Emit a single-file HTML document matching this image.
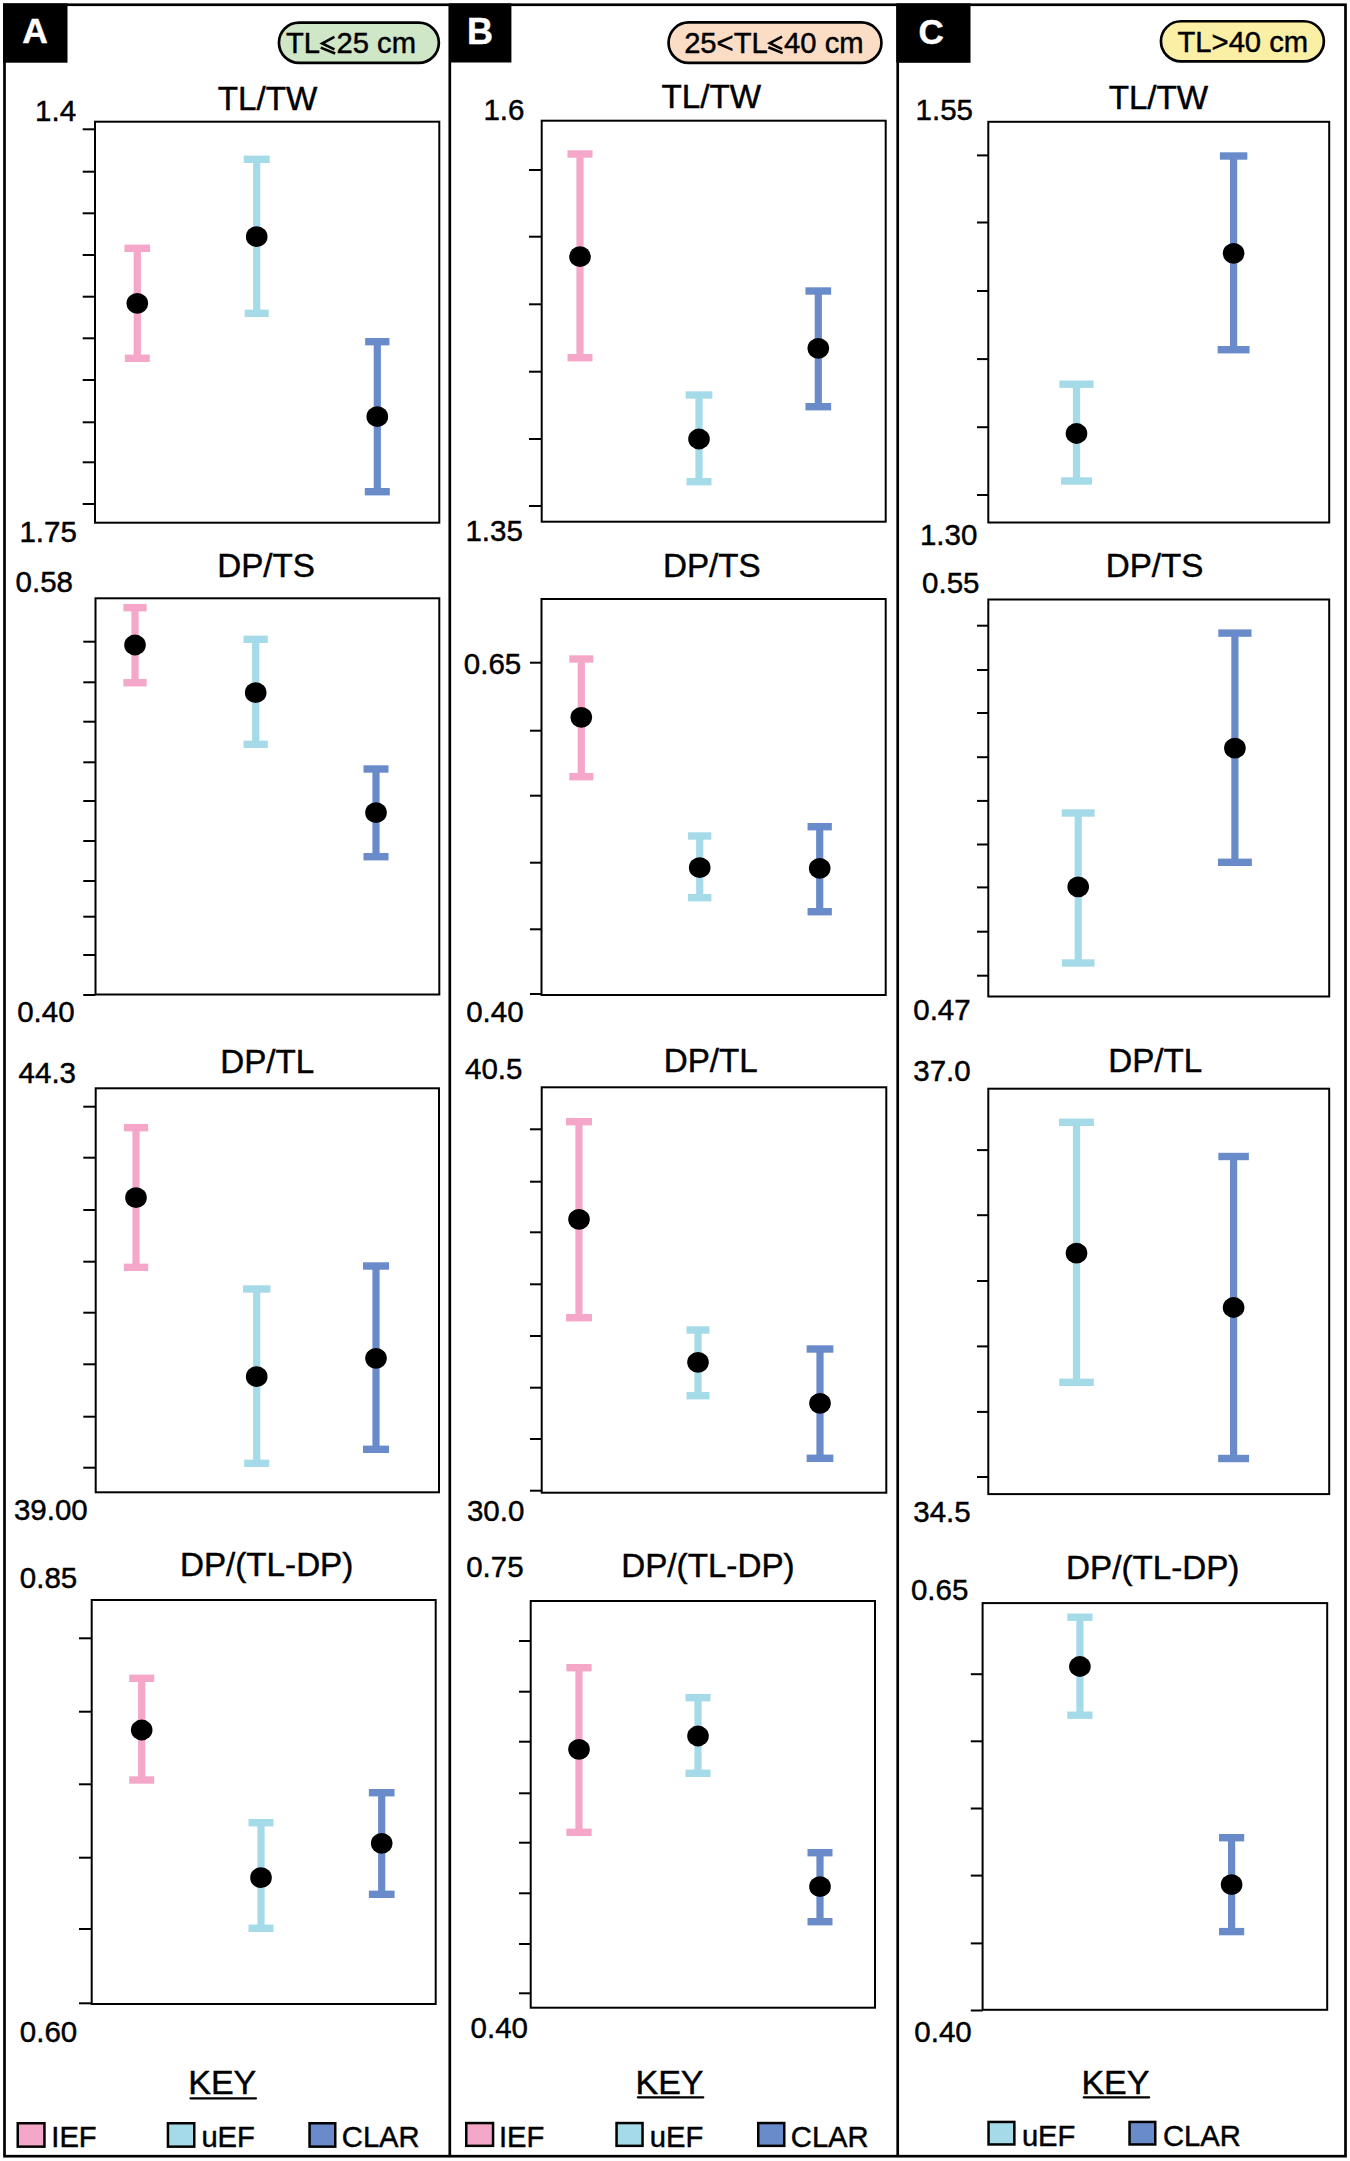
<!DOCTYPE html>
<html><head><meta charset="utf-8"><style>
html,body{margin:0;padding:0;background:#fff;}
body{width:1350px;height:2161px;overflow:hidden;}
svg{display:block;font-family:"Liberation Sans",sans-serif;}
</style></head><body>
<svg width="1350" height="2161" viewBox="0 0 1350 2161">
<rect width="1350" height="2161" fill="#fff"/>
<rect x="4.5" y="4.75" width="1341.00" height="2151.45" fill="none" stroke="#000" stroke-width="2.7"/>
<line x1="449.8" y1="4" x2="449.8" y2="2157" stroke="#000" stroke-width="2.7"/>
<line x1="897.7" y1="4" x2="897.7" y2="2157" stroke="#000" stroke-width="2.7"/>
<rect x="3" y="3.4" width="64.50" height="59.30" fill="#000"/>
<rect x="449" y="3.4" width="62.40" height="59.10" fill="#000"/>
<rect x="896.3" y="3.4" width="74.20" height="59.40" fill="#000"/>
<text x="22.32" y="43.40" font-size="35.5" font-weight="bold" fill="#fff" stroke="#fff" stroke-width="0.45">A</text>
<text x="466.89" y="43.80" font-size="36" font-weight="bold" fill="#fff" stroke="#fff" stroke-width="0.45">B</text>
<text x="918.56" y="43.70" font-size="35" font-weight="bold" fill="#fff" stroke="#fff" stroke-width="0.45">C</text>
<rect x="278.95" y="22.65" width="159.90" height="40.20" rx="20.10" ry="20.10" fill="#CFE6C7" stroke="#000" stroke-width="2.7"/>
<rect x="668.55" y="22.45" width="212.90" height="40.40" rx="20.20" ry="20.20" fill="#FBDDC6" stroke="#000" stroke-width="2.7"/>
<rect x="1160.95" y="21.25" width="162.90" height="40.20" rx="20.10" ry="20.10" fill="#FAEFA4" stroke="#000" stroke-width="2.7"/>
<text x="286.04" y="52.90" font-size="29.2" stroke="#000" stroke-width="0.45">TL</text>
<path d="M334.43,36.90 L322.16,43.50 L334.43,49.40 M320.70,47.59 L335.16,53.48" fill="none" stroke="#000" stroke-width="2.57" stroke-linejoin="miter" stroke-miterlimit="10"/>
<text x="336.47" y="52.90" font-size="29.2" stroke="#000" stroke-width="0.45">25 cm</text>
<text x="684.13" y="52.60" font-size="29.2" stroke="#000" stroke-width="0.45">25&lt;TL</text>
<path d="M782.05,36.60 L769.78,43.20 L782.05,49.10 M768.32,47.29 L782.78,53.18" fill="none" stroke="#000" stroke-width="2.57" stroke-linejoin="miter" stroke-miterlimit="10"/>
<text x="784.09" y="52.60" font-size="29.2" stroke="#000" stroke-width="0.45">40 cm</text>
<text x="1177.54" y="51.50" font-size="29.2" stroke="#000" stroke-width="0.45">TL&gt;40 cm</text>
<rect x="95.00" y="121.70" width="344.30" height="401.00" fill="none" stroke="#000" stroke-width="2.0"/>
<line x1="82.70" y1="129.30" x2="95.00" y2="129.30" stroke="#000" stroke-width="2"/>
<line x1="82.70" y1="171.70" x2="95.00" y2="171.70" stroke="#000" stroke-width="2"/>
<line x1="82.70" y1="213.30" x2="95.00" y2="213.30" stroke="#000" stroke-width="2"/>
<line x1="82.70" y1="255.00" x2="95.00" y2="255.00" stroke="#000" stroke-width="2"/>
<line x1="82.70" y1="296.70" x2="95.00" y2="296.70" stroke="#000" stroke-width="2"/>
<line x1="82.70" y1="338.30" x2="95.00" y2="338.30" stroke="#000" stroke-width="2"/>
<line x1="82.70" y1="380.00" x2="95.00" y2="380.00" stroke="#000" stroke-width="2"/>
<line x1="82.70" y1="422.30" x2="95.00" y2="422.30" stroke="#000" stroke-width="2"/>
<line x1="82.70" y1="462.30" x2="95.00" y2="462.30" stroke="#000" stroke-width="2"/>
<line x1="82.70" y1="504.00" x2="95.00" y2="504.00" stroke="#000" stroke-width="2"/>
<rect x="133.70" y="248.30" width="7.2" height="110.00" fill="#F4A7C9"/>
<rect x="124.45" y="244.60" width="25.70" height="7.4" fill="#F4A7C9"/>
<rect x="124.80" y="354.60" width="25.00" height="7.4" fill="#F4A7C9"/>
<ellipse cx="137.30" cy="303.30" rx="10.8" ry="10.4" fill="#000"/>
<rect x="253.10" y="159.30" width="7.2" height="154.00" fill="#A5DBE9"/>
<rect x="243.70" y="155.60" width="26.00" height="7.4" fill="#A5DBE9"/>
<rect x="244.70" y="309.60" width="24.00" height="7.4" fill="#A5DBE9"/>
<ellipse cx="256.70" cy="236.70" rx="10.8" ry="10.4" fill="#000"/>
<rect x="373.70" y="341.70" width="7.2" height="150.00" fill="#6A8BCA"/>
<rect x="365.15" y="338.00" width="24.30" height="7.4" fill="#6A8BCA"/>
<rect x="364.80" y="488.00" width="25.00" height="7.4" fill="#6A8BCA"/>
<ellipse cx="377.30" cy="416.70" rx="10.8" ry="10.4" fill="#000"/>
<text x="217.75" y="109.90" font-size="33.2" font-weight="normal" fill="#000" stroke="#000" stroke-width="0.45">TL/TW</text>
<text x="35.05" y="121.20" font-size="29.5" font-weight="normal" fill="#000" stroke="#000" stroke-width="0.45">1.4</text>
<text x="19.45" y="541.70" font-size="29.5" font-weight="normal" fill="#000" stroke="#000" stroke-width="0.45">1.75</text>
<rect x="95.50" y="598.30" width="343.80" height="396.20" fill="none" stroke="#000" stroke-width="2.0"/>
<line x1="83.30" y1="641.70" x2="95.50" y2="641.70" stroke="#000" stroke-width="2"/>
<line x1="83.30" y1="682.30" x2="95.50" y2="682.30" stroke="#000" stroke-width="2"/>
<line x1="83.30" y1="721.70" x2="95.50" y2="721.70" stroke="#000" stroke-width="2"/>
<line x1="83.30" y1="762.30" x2="95.50" y2="762.30" stroke="#000" stroke-width="2"/>
<line x1="83.30" y1="801.00" x2="95.50" y2="801.00" stroke="#000" stroke-width="2"/>
<line x1="83.30" y1="841.00" x2="95.50" y2="841.00" stroke="#000" stroke-width="2"/>
<line x1="83.30" y1="881.00" x2="95.50" y2="881.00" stroke="#000" stroke-width="2"/>
<line x1="83.30" y1="916.70" x2="95.50" y2="916.70" stroke="#000" stroke-width="2"/>
<line x1="83.30" y1="955.00" x2="95.50" y2="955.00" stroke="#000" stroke-width="2"/>
<line x1="83.30" y1="995.00" x2="95.50" y2="995.00" stroke="#000" stroke-width="2"/>
<rect x="131.40" y="607.70" width="7.2" height="75.00" fill="#F4A7C9"/>
<rect x="123.35" y="604.00" width="23.30" height="7.4" fill="#F4A7C9"/>
<rect x="123.35" y="679.00" width="23.30" height="7.4" fill="#F4A7C9"/>
<ellipse cx="135.00" cy="645.00" rx="10.8" ry="10.4" fill="#000"/>
<rect x="252.10" y="639.30" width="7.2" height="105.00" fill="#A5DBE9"/>
<rect x="243.55" y="635.60" width="24.30" height="7.4" fill="#A5DBE9"/>
<rect x="243.55" y="740.60" width="24.30" height="7.4" fill="#A5DBE9"/>
<ellipse cx="255.70" cy="692.70" rx="10.8" ry="10.4" fill="#000"/>
<rect x="372.40" y="769.00" width="7.2" height="87.70" fill="#6A8BCA"/>
<rect x="363.50" y="765.30" width="25.00" height="7.4" fill="#6A8BCA"/>
<rect x="363.50" y="853.00" width="25.00" height="7.4" fill="#6A8BCA"/>
<ellipse cx="376.00" cy="812.70" rx="10.8" ry="10.4" fill="#000"/>
<text x="217.28" y="577.30" font-size="33.2" font-weight="normal" fill="#000" stroke="#000" stroke-width="0.45">DP/TS</text>
<text x="15.55" y="592.30" font-size="29.5" font-weight="normal" fill="#000" stroke="#000" stroke-width="0.45">0.58</text>
<text x="17.15" y="1021.70" font-size="29.5" font-weight="normal" fill="#000" stroke="#000" stroke-width="0.45">0.40</text>
<rect x="95.70" y="1088.30" width="343.30" height="404.00" fill="none" stroke="#000" stroke-width="2.0"/>
<line x1="83.30" y1="1106.70" x2="95.70" y2="1106.70" stroke="#000" stroke-width="2"/>
<line x1="83.30" y1="1157.70" x2="95.70" y2="1157.70" stroke="#000" stroke-width="2"/>
<line x1="83.30" y1="1210.00" x2="95.70" y2="1210.00" stroke="#000" stroke-width="2"/>
<line x1="83.30" y1="1261.70" x2="95.70" y2="1261.70" stroke="#000" stroke-width="2"/>
<line x1="83.30" y1="1312.70" x2="95.70" y2="1312.70" stroke="#000" stroke-width="2"/>
<line x1="83.30" y1="1364.30" x2="95.70" y2="1364.30" stroke="#000" stroke-width="2"/>
<line x1="83.30" y1="1416.70" x2="95.70" y2="1416.70" stroke="#000" stroke-width="2"/>
<line x1="83.30" y1="1467.70" x2="95.70" y2="1467.70" stroke="#000" stroke-width="2"/>
<rect x="132.40" y="1127.70" width="7.2" height="139.60" fill="#F4A7C9"/>
<rect x="123.85" y="1124.00" width="24.30" height="7.4" fill="#F4A7C9"/>
<rect x="123.85" y="1263.60" width="24.30" height="7.4" fill="#F4A7C9"/>
<ellipse cx="136.00" cy="1197.70" rx="10.8" ry="10.4" fill="#000"/>
<rect x="253.10" y="1289.00" width="7.2" height="174.30" fill="#A5DBE9"/>
<rect x="243.05" y="1285.30" width="27.30" height="7.4" fill="#A5DBE9"/>
<rect x="244.20" y="1459.60" width="25.00" height="7.4" fill="#A5DBE9"/>
<ellipse cx="256.70" cy="1376.70" rx="10.8" ry="10.4" fill="#000"/>
<rect x="372.40" y="1266.00" width="7.2" height="183.30" fill="#6A8BCA"/>
<rect x="363.00" y="1262.30" width="26.00" height="7.4" fill="#6A8BCA"/>
<rect x="363.00" y="1445.60" width="26.00" height="7.4" fill="#6A8BCA"/>
<ellipse cx="376.00" cy="1358.30" rx="10.8" ry="10.4" fill="#000"/>
<text x="220.28" y="1073.20" font-size="33.2" font-weight="normal" fill="#000" stroke="#000" stroke-width="0.45">DP/TL</text>
<text x="18.62" y="1082.70" font-size="29.5" font-weight="normal" fill="#000" stroke="#000" stroke-width="0.45">44.3</text>
<text x="13.88" y="1520.00" font-size="29.5" font-weight="normal" fill="#000" stroke="#000" stroke-width="0.45">39.00</text>
<rect x="91.70" y="1600.00" width="344.00" height="404.00" fill="none" stroke="#000" stroke-width="2.0"/>
<line x1="79.00" y1="1638.30" x2="91.70" y2="1638.30" stroke="#000" stroke-width="2"/>
<line x1="79.00" y1="1711.70" x2="91.70" y2="1711.70" stroke="#000" stroke-width="2"/>
<line x1="79.00" y1="1784.30" x2="91.70" y2="1784.30" stroke="#000" stroke-width="2"/>
<line x1="79.00" y1="1857.70" x2="91.70" y2="1857.70" stroke="#000" stroke-width="2"/>
<line x1="79.00" y1="1929.00" x2="91.70" y2="1929.00" stroke="#000" stroke-width="2"/>
<line x1="79.00" y1="2003.30" x2="91.70" y2="2003.30" stroke="#000" stroke-width="2"/>
<rect x="138.10" y="1678.30" width="7.2" height="101.70" fill="#F4A7C9"/>
<rect x="129.20" y="1674.60" width="25.00" height="7.4" fill="#F4A7C9"/>
<rect x="129.20" y="1776.30" width="25.00" height="7.4" fill="#F4A7C9"/>
<ellipse cx="141.70" cy="1730.00" rx="10.8" ry="10.4" fill="#000"/>
<rect x="257.40" y="1822.70" width="7.2" height="105.60" fill="#A5DBE9"/>
<rect x="248.50" y="1819.00" width="25.00" height="7.4" fill="#A5DBE9"/>
<rect x="248.50" y="1924.60" width="25.00" height="7.4" fill="#A5DBE9"/>
<ellipse cx="261.00" cy="1877.70" rx="10.8" ry="10.4" fill="#000"/>
<rect x="378.10" y="1792.70" width="7.2" height="101.60" fill="#6A8BCA"/>
<rect x="368.85" y="1789.00" width="25.70" height="7.4" fill="#6A8BCA"/>
<rect x="368.85" y="1890.60" width="25.70" height="7.4" fill="#6A8BCA"/>
<ellipse cx="381.70" cy="1843.30" rx="10.8" ry="10.4" fill="#000"/>
<text x="179.98" y="1576.00" font-size="33.2" font-weight="normal" fill="#000" stroke="#000" stroke-width="0.45">DP/(TL-DP)</text>
<text x="19.85" y="1587.70" font-size="29.5" font-weight="normal" fill="#000" stroke="#000" stroke-width="0.45">0.85</text>
<text x="19.85" y="2041.70" font-size="29.5" font-weight="normal" fill="#000" stroke="#000" stroke-width="0.45">0.60</text>
<rect x="541.70" y="120.70" width="344.00" height="401.00" fill="none" stroke="#000" stroke-width="2.0"/>
<line x1="529.00" y1="170.00" x2="541.70" y2="170.00" stroke="#000" stroke-width="2"/>
<line x1="529.00" y1="236.70" x2="541.70" y2="236.70" stroke="#000" stroke-width="2"/>
<line x1="529.00" y1="304.30" x2="541.70" y2="304.30" stroke="#000" stroke-width="2"/>
<line x1="529.00" y1="371.70" x2="541.70" y2="371.70" stroke="#000" stroke-width="2"/>
<line x1="529.00" y1="439.00" x2="541.70" y2="439.00" stroke="#000" stroke-width="2"/>
<line x1="529.00" y1="506.00" x2="541.70" y2="506.00" stroke="#000" stroke-width="2"/>
<rect x="576.40" y="154.00" width="7.2" height="203.70" fill="#F4A7C9"/>
<rect x="567.50" y="150.30" width="25.00" height="7.4" fill="#F4A7C9"/>
<rect x="567.50" y="354.00" width="25.00" height="7.4" fill="#F4A7C9"/>
<ellipse cx="580.00" cy="256.70" rx="10.8" ry="10.4" fill="#000"/>
<rect x="695.40" y="395.00" width="7.2" height="86.70" fill="#A5DBE9"/>
<rect x="685.65" y="391.30" width="26.70" height="7.4" fill="#A5DBE9"/>
<rect x="686.50" y="478.00" width="25.00" height="7.4" fill="#A5DBE9"/>
<ellipse cx="699.00" cy="439.00" rx="10.8" ry="10.4" fill="#000"/>
<rect x="814.70" y="291.00" width="7.2" height="115.70" fill="#6A8BCA"/>
<rect x="805.45" y="287.30" width="25.70" height="7.4" fill="#6A8BCA"/>
<rect x="805.45" y="403.00" width="25.70" height="7.4" fill="#6A8BCA"/>
<ellipse cx="818.30" cy="348.30" rx="10.8" ry="10.4" fill="#000"/>
<text x="661.55" y="108.30" font-size="33.2" font-weight="normal" fill="#000" stroke="#000" stroke-width="0.45">TL/TW</text>
<text x="483.45" y="120.00" font-size="29.5" font-weight="normal" fill="#000" stroke="#000" stroke-width="0.45">1.6</text>
<text x="465.45" y="541.10" font-size="29.5" font-weight="normal" fill="#000" stroke="#000" stroke-width="0.45">1.35</text>
<rect x="541.50" y="599.00" width="344.20" height="396.00" fill="none" stroke="#000" stroke-width="2.0"/>
<line x1="530.00" y1="662.70" x2="541.50" y2="662.70" stroke="#000" stroke-width="2"/>
<line x1="530.00" y1="730.70" x2="541.50" y2="730.70" stroke="#000" stroke-width="2"/>
<line x1="530.00" y1="795.70" x2="541.50" y2="795.70" stroke="#000" stroke-width="2"/>
<line x1="530.00" y1="862.70" x2="541.50" y2="862.70" stroke="#000" stroke-width="2"/>
<line x1="530.00" y1="929.30" x2="541.50" y2="929.30" stroke="#000" stroke-width="2"/>
<line x1="530.00" y1="994.00" x2="541.50" y2="994.00" stroke="#000" stroke-width="2"/>
<rect x="577.70" y="659.00" width="7.2" height="117.70" fill="#F4A7C9"/>
<rect x="569.30" y="655.30" width="24.00" height="7.4" fill="#F4A7C9"/>
<rect x="569.30" y="773.00" width="24.00" height="7.4" fill="#F4A7C9"/>
<ellipse cx="581.30" cy="717.30" rx="10.8" ry="10.4" fill="#000"/>
<rect x="696.10" y="836.00" width="7.2" height="61.70" fill="#A5DBE9"/>
<rect x="688.05" y="832.30" width="23.30" height="7.4" fill="#A5DBE9"/>
<rect x="688.05" y="894.00" width="23.30" height="7.4" fill="#A5DBE9"/>
<ellipse cx="699.70" cy="867.70" rx="10.8" ry="10.4" fill="#000"/>
<rect x="816.10" y="826.70" width="7.2" height="85.00" fill="#6A8BCA"/>
<rect x="807.55" y="823.00" width="24.30" height="7.4" fill="#6A8BCA"/>
<rect x="807.55" y="908.00" width="24.30" height="7.4" fill="#6A8BCA"/>
<ellipse cx="819.70" cy="868.30" rx="10.8" ry="10.4" fill="#000"/>
<text x="662.98" y="577.30" font-size="33.2" font-weight="normal" fill="#000" stroke="#000" stroke-width="0.45">DP/TS</text>
<text x="463.85" y="674.30" font-size="29.5" font-weight="normal" fill="#000" stroke="#000" stroke-width="0.45">0.65</text>
<text x="466.15" y="1021.70" font-size="29.5" font-weight="normal" fill="#000" stroke="#000" stroke-width="0.45">0.40</text>
<rect x="541.70" y="1087.30" width="344.60" height="405.40" fill="none" stroke="#000" stroke-width="2.0"/>
<line x1="530.00" y1="1129.30" x2="541.70" y2="1129.30" stroke="#000" stroke-width="2"/>
<line x1="530.00" y1="1181.70" x2="541.70" y2="1181.70" stroke="#000" stroke-width="2"/>
<line x1="530.00" y1="1232.30" x2="541.70" y2="1232.30" stroke="#000" stroke-width="2"/>
<line x1="530.00" y1="1284.30" x2="541.70" y2="1284.30" stroke="#000" stroke-width="2"/>
<line x1="530.00" y1="1336.00" x2="541.70" y2="1336.00" stroke="#000" stroke-width="2"/>
<line x1="530.00" y1="1387.70" x2="541.70" y2="1387.70" stroke="#000" stroke-width="2"/>
<line x1="530.00" y1="1439.00" x2="541.70" y2="1439.00" stroke="#000" stroke-width="2"/>
<line x1="530.00" y1="1490.70" x2="541.70" y2="1490.70" stroke="#000" stroke-width="2"/>
<rect x="575.40" y="1121.70" width="7.2" height="196.00" fill="#F4A7C9"/>
<rect x="566.00" y="1118.00" width="26.00" height="7.4" fill="#F4A7C9"/>
<rect x="566.00" y="1314.00" width="26.00" height="7.4" fill="#F4A7C9"/>
<ellipse cx="579.00" cy="1219.30" rx="10.8" ry="10.4" fill="#000"/>
<rect x="694.40" y="1330.00" width="7.2" height="65.70" fill="#A5DBE9"/>
<rect x="686.50" y="1326.30" width="23.00" height="7.4" fill="#A5DBE9"/>
<rect x="686.50" y="1392.00" width="23.00" height="7.4" fill="#A5DBE9"/>
<ellipse cx="698.00" cy="1362.30" rx="10.8" ry="10.4" fill="#000"/>
<rect x="816.40" y="1349.00" width="7.2" height="109.30" fill="#6A8BCA"/>
<rect x="806.65" y="1345.30" width="26.70" height="7.4" fill="#6A8BCA"/>
<rect x="806.65" y="1454.60" width="26.70" height="7.4" fill="#6A8BCA"/>
<ellipse cx="820.00" cy="1403.30" rx="10.8" ry="10.4" fill="#000"/>
<text x="663.78" y="1072.00" font-size="33.2" font-weight="normal" fill="#000" stroke="#000" stroke-width="0.45">DP/TL</text>
<text x="465.02" y="1079.30" font-size="29.5" font-weight="normal" fill="#000" stroke="#000" stroke-width="0.45">40.5</text>
<text x="466.88" y="1521.00" font-size="29.5" font-weight="normal" fill="#000" stroke="#000" stroke-width="0.45">30.0</text>
<rect x="530.70" y="1601.00" width="344.30" height="406.70" fill="none" stroke="#000" stroke-width="2.0"/>
<line x1="519.00" y1="1641.00" x2="530.70" y2="1641.00" stroke="#000" stroke-width="2"/>
<line x1="519.00" y1="1691.70" x2="530.70" y2="1691.70" stroke="#000" stroke-width="2"/>
<line x1="519.00" y1="1741.70" x2="530.70" y2="1741.70" stroke="#000" stroke-width="2"/>
<line x1="519.00" y1="1793.30" x2="530.70" y2="1793.30" stroke="#000" stroke-width="2"/>
<line x1="519.00" y1="1842.70" x2="530.70" y2="1842.70" stroke="#000" stroke-width="2"/>
<line x1="519.00" y1="1893.30" x2="530.70" y2="1893.30" stroke="#000" stroke-width="2"/>
<line x1="519.00" y1="1944.00" x2="530.70" y2="1944.00" stroke="#000" stroke-width="2"/>
<line x1="519.00" y1="1993.30" x2="530.70" y2="1993.30" stroke="#000" stroke-width="2"/>
<rect x="575.40" y="1667.70" width="7.2" height="164.60" fill="#F4A7C9"/>
<rect x="566.35" y="1664.00" width="25.30" height="7.4" fill="#F4A7C9"/>
<rect x="566.35" y="1828.60" width="25.30" height="7.4" fill="#F4A7C9"/>
<ellipse cx="579.00" cy="1749.30" rx="10.8" ry="10.4" fill="#000"/>
<rect x="694.40" y="1697.70" width="7.2" height="75.60" fill="#A5DBE9"/>
<rect x="685.50" y="1694.00" width="25.00" height="7.4" fill="#A5DBE9"/>
<rect x="685.50" y="1769.60" width="25.00" height="7.4" fill="#A5DBE9"/>
<ellipse cx="698.00" cy="1736.00" rx="10.8" ry="10.4" fill="#000"/>
<rect x="816.40" y="1852.70" width="7.2" height="69.00" fill="#6A8BCA"/>
<rect x="807.50" y="1849.00" width="25.00" height="7.4" fill="#6A8BCA"/>
<rect x="807.50" y="1918.00" width="25.00" height="7.4" fill="#6A8BCA"/>
<ellipse cx="820.00" cy="1886.70" rx="10.8" ry="10.4" fill="#000"/>
<text x="621.28" y="1576.70" font-size="33.2" font-weight="normal" fill="#000" stroke="#000" stroke-width="0.45">DP/(TL-DP)</text>
<text x="466.15" y="1576.70" font-size="29.5" font-weight="normal" fill="#000" stroke="#000" stroke-width="0.45">0.75</text>
<text x="470.55" y="2038.30" font-size="29.5" font-weight="normal" fill="#000" stroke="#000" stroke-width="0.45">0.40</text>
<rect x="988.30" y="121.80" width="340.90" height="400.70" fill="none" stroke="#000" stroke-width="2.0"/>
<line x1="977.00" y1="155.40" x2="988.30" y2="155.40" stroke="#000" stroke-width="2"/>
<line x1="977.00" y1="222.50" x2="988.30" y2="222.50" stroke="#000" stroke-width="2"/>
<line x1="977.00" y1="291.00" x2="988.30" y2="291.00" stroke="#000" stroke-width="2"/>
<line x1="977.00" y1="359.10" x2="988.30" y2="359.10" stroke="#000" stroke-width="2"/>
<line x1="977.00" y1="427.20" x2="988.30" y2="427.20" stroke="#000" stroke-width="2"/>
<line x1="977.00" y1="495.00" x2="988.30" y2="495.00" stroke="#000" stroke-width="2"/>
<rect x="1072.90" y="384.20" width="7.2" height="96.80" fill="#A5DBE9"/>
<rect x="1059.35" y="380.50" width="34.30" height="7.4" fill="#A5DBE9"/>
<rect x="1061.05" y="477.30" width="30.90" height="7.4" fill="#A5DBE9"/>
<ellipse cx="1076.50" cy="433.50" rx="10.8" ry="10.4" fill="#000"/>
<rect x="1230.00" y="156.00" width="7.2" height="193.70" fill="#6A8BCA"/>
<rect x="1219.85" y="152.30" width="27.50" height="7.4" fill="#6A8BCA"/>
<rect x="1217.65" y="346.00" width="31.90" height="7.4" fill="#6A8BCA"/>
<ellipse cx="1233.60" cy="253.40" rx="10.8" ry="10.4" fill="#000"/>
<text x="1108.65" y="109.00" font-size="33.2" font-weight="normal" fill="#000" stroke="#000" stroke-width="0.45">TL/TW</text>
<text x="915.55" y="119.80" font-size="29.5" font-weight="normal" fill="#000" stroke="#000" stroke-width="0.45">1.55</text>
<text x="919.95" y="545.30" font-size="29.5" font-weight="normal" fill="#000" stroke="#000" stroke-width="0.45">1.30</text>
<rect x="988.30" y="599.50" width="340.90" height="397.00" fill="none" stroke="#000" stroke-width="2.0"/>
<line x1="977.00" y1="625.70" x2="988.30" y2="625.70" stroke="#000" stroke-width="2"/>
<line x1="977.00" y1="670.00" x2="988.30" y2="670.00" stroke="#000" stroke-width="2"/>
<line x1="977.00" y1="713.00" x2="988.30" y2="713.00" stroke="#000" stroke-width="2"/>
<line x1="977.00" y1="757.20" x2="988.30" y2="757.20" stroke="#000" stroke-width="2"/>
<line x1="977.00" y1="800.90" x2="988.30" y2="800.90" stroke="#000" stroke-width="2"/>
<line x1="977.00" y1="844.50" x2="988.30" y2="844.50" stroke="#000" stroke-width="2"/>
<line x1="977.00" y1="887.40" x2="988.30" y2="887.40" stroke="#000" stroke-width="2"/>
<line x1="977.00" y1="931.70" x2="988.30" y2="931.70" stroke="#000" stroke-width="2"/>
<line x1="977.00" y1="975.70" x2="988.30" y2="975.70" stroke="#000" stroke-width="2"/>
<rect x="1074.60" y="813.00" width="7.2" height="150.00" fill="#A5DBE9"/>
<rect x="1061.75" y="809.30" width="32.90" height="7.4" fill="#A5DBE9"/>
<rect x="1061.90" y="959.30" width="32.60" height="7.4" fill="#A5DBE9"/>
<ellipse cx="1078.20" cy="886.80" rx="10.8" ry="10.4" fill="#000"/>
<rect x="1231.30" y="633.10" width="7.2" height="229.20" fill="#6A8BCA"/>
<rect x="1218.30" y="629.40" width="33.20" height="7.4" fill="#6A8BCA"/>
<rect x="1217.95" y="858.60" width="33.90" height="7.4" fill="#6A8BCA"/>
<ellipse cx="1234.90" cy="748.20" rx="10.8" ry="10.4" fill="#000"/>
<text x="1105.68" y="577.00" font-size="33.2" font-weight="normal" fill="#000" stroke="#000" stroke-width="0.45">DP/TS</text>
<text x="922.05" y="593.20" font-size="29.5" font-weight="normal" fill="#000" stroke="#000" stroke-width="0.45">0.55</text>
<text x="913.25" y="1020.00" font-size="29.5" font-weight="normal" fill="#000" stroke="#000" stroke-width="0.45">0.47</text>
<rect x="988.30" y="1088.70" width="340.90" height="405.40" fill="none" stroke="#000" stroke-width="2.0"/>
<line x1="977.00" y1="1150.10" x2="988.30" y2="1150.10" stroke="#000" stroke-width="2"/>
<line x1="977.00" y1="1215.20" x2="988.30" y2="1215.20" stroke="#000" stroke-width="2"/>
<line x1="977.00" y1="1281.00" x2="988.30" y2="1281.00" stroke="#000" stroke-width="2"/>
<line x1="977.00" y1="1346.40" x2="988.30" y2="1346.40" stroke="#000" stroke-width="2"/>
<line x1="977.00" y1="1411.90" x2="988.30" y2="1411.90" stroke="#000" stroke-width="2"/>
<line x1="977.00" y1="1477.00" x2="988.30" y2="1477.00" stroke="#000" stroke-width="2"/>
<rect x="1072.90" y="1122.30" width="7.2" height="260.00" fill="#A5DBE9"/>
<rect x="1059.05" y="1118.60" width="34.90" height="7.4" fill="#A5DBE9"/>
<rect x="1059.20" y="1378.60" width="34.60" height="7.4" fill="#A5DBE9"/>
<ellipse cx="1076.50" cy="1253.20" rx="10.8" ry="10.4" fill="#000"/>
<rect x="1230.00" y="1156.50" width="7.2" height="302.00" fill="#6A8BCA"/>
<rect x="1218.35" y="1152.80" width="30.50" height="7.4" fill="#6A8BCA"/>
<rect x="1218.15" y="1454.80" width="30.90" height="7.4" fill="#6A8BCA"/>
<ellipse cx="1233.60" cy="1307.50" rx="10.8" ry="10.4" fill="#000"/>
<text x="1108.28" y="1072.00" font-size="33.2" font-weight="normal" fill="#000" stroke="#000" stroke-width="0.45">DP/TL</text>
<text x="913.28" y="1081.30" font-size="29.5" font-weight="normal" fill="#000" stroke="#000" stroke-width="0.45">37.0</text>
<text x="913.28" y="1522.30" font-size="29.5" font-weight="normal" fill="#000" stroke="#000" stroke-width="0.45">34.5</text>
<rect x="982.60" y="1603.10" width="344.60" height="406.70" fill="none" stroke="#000" stroke-width="2.0"/>
<line x1="970.80" y1="1674.20" x2="982.60" y2="1674.20" stroke="#000" stroke-width="2"/>
<line x1="970.80" y1="1741.30" x2="982.60" y2="1741.30" stroke="#000" stroke-width="2"/>
<line x1="970.80" y1="1808.50" x2="982.60" y2="1808.50" stroke="#000" stroke-width="2"/>
<line x1="970.80" y1="1875.60" x2="982.60" y2="1875.60" stroke="#000" stroke-width="2"/>
<line x1="970.80" y1="1943.40" x2="982.60" y2="1943.40" stroke="#000" stroke-width="2"/>
<line x1="970.80" y1="2010.50" x2="982.60" y2="2010.50" stroke="#000" stroke-width="2"/>
<rect x="1076.30" y="1617.20" width="7.2" height="98.00" fill="#A5DBE9"/>
<rect x="1067.30" y="1613.50" width="25.20" height="7.4" fill="#A5DBE9"/>
<rect x="1067.30" y="1711.50" width="25.20" height="7.4" fill="#A5DBE9"/>
<ellipse cx="1079.90" cy="1666.50" rx="10.8" ry="10.4" fill="#000"/>
<rect x="1228.00" y="1837.70" width="7.2" height="93.90" fill="#6A8BCA"/>
<rect x="1219.00" y="1834.00" width="25.20" height="7.4" fill="#6A8BCA"/>
<rect x="1219.00" y="1927.90" width="25.20" height="7.4" fill="#6A8BCA"/>
<ellipse cx="1231.60" cy="1884.60" rx="10.8" ry="10.4" fill="#000"/>
<text x="1066.08" y="1578.60" font-size="33.2" font-weight="normal" fill="#000" stroke="#000" stroke-width="0.45">DP/(TL-DP)</text>
<text x="910.95" y="1600.40" font-size="29.5" font-weight="normal" fill="#000" stroke="#000" stroke-width="0.45">0.65</text>
<text x="914.35" y="2042.30" font-size="29.5" font-weight="normal" fill="#000" stroke="#000" stroke-width="0.45">0.40</text>
<text x="188.21" y="2094.00" font-size="34" font-weight="normal" fill="#000" stroke="#000" stroke-width="0.45">KEY</text>
<line x1="190.50" y1="2098.3" x2="256.00" y2="2098.3" stroke="#000" stroke-width="2.2" stroke-linecap="round"/>
<text x="635.51" y="2094.00" font-size="34" font-weight="normal" fill="#000" stroke="#000" stroke-width="0.45">KEY</text>
<line x1="637.80" y1="2097.3" x2="703.30" y2="2097.3" stroke="#000" stroke-width="2.2" stroke-linecap="round"/>
<text x="1081.41" y="2093.70" font-size="34" font-weight="normal" fill="#000" stroke="#000" stroke-width="0.45">KEY</text>
<line x1="1083.70" y1="2097.3" x2="1149.20" y2="2097.3" stroke="#000" stroke-width="2.2" stroke-linecap="round"/>
<rect x="17.75" y="2123.25" width="26.70" height="23.40" fill="#F4A7C9" stroke="#000" stroke-width="2.5"/>
<text x="51.31" y="2147.00" font-size="29.2" font-weight="normal" fill="#000" stroke="#000" stroke-width="0.45">IEF</text>
<rect x="167.95" y="2123.25" width="26.30" height="23.40" fill="#A5DBE9" stroke="#000" stroke-width="2.5"/>
<text x="201.40" y="2147.00" font-size="29.2" font-weight="normal" fill="#000" stroke="#000" stroke-width="0.45">uEF</text>
<rect x="309.55" y="2123.25" width="25.70" height="23.40" fill="#6A8BCA" stroke="#000" stroke-width="2.5"/>
<text x="341.82" y="2147.00" font-size="29.2" font-weight="normal" fill="#000" stroke="#000" stroke-width="0.45">CLAR</text>
<rect x="466.25" y="2123.05" width="26.80" height="22.80" fill="#F4A7C9" stroke="#000" stroke-width="2.5"/>
<text x="499.01" y="2146.50" font-size="29.2" font-weight="normal" fill="#000" stroke="#000" stroke-width="0.45">IEF</text>
<rect x="616.55" y="2123.05" width="26.00" height="22.80" fill="#A5DBE9" stroke="#000" stroke-width="2.5"/>
<text x="649.80" y="2146.50" font-size="29.2" font-weight="normal" fill="#000" stroke="#000" stroke-width="0.45">uEF</text>
<rect x="758.25" y="2123.05" width="26.00" height="22.80" fill="#6A8BCA" stroke="#000" stroke-width="2.5"/>
<text x="790.82" y="2146.50" font-size="29.2" font-weight="normal" fill="#000" stroke="#000" stroke-width="0.45">CLAR</text>
<rect x="988.55" y="2121.95" width="25.80" height="22.50" fill="#A5DBE9" stroke="#000" stroke-width="2.5"/>
<text x="1021.90" y="2145.50" font-size="29.2" font-weight="normal" fill="#000" stroke="#000" stroke-width="0.45">uEF</text>
<rect x="1129.55" y="2121.95" width="25.70" height="22.50" fill="#6A8BCA" stroke="#000" stroke-width="2.5"/>
<text x="1163.02" y="2145.50" font-size="29.2" font-weight="normal" fill="#000" stroke="#000" stroke-width="0.45">CLAR</text>
</svg></body></html>
